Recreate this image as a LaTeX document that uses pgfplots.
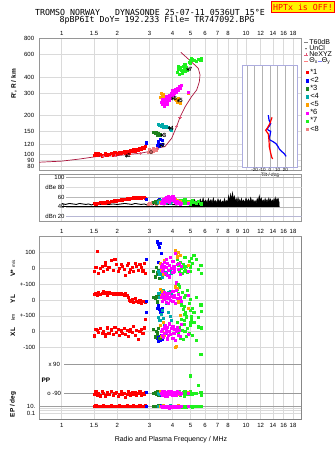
\documentclass[border=0pt]{standalone}
\usepackage{fontspec}
\setmainfont{Liberation Sans}
\newfontfamily\monofont{DejaVu Sans Mono}
\usepackage{pgfplots}
\pgfplotsset{compat=1.18}
\usepackage{pgfplotstable}

\definecolor{c1}{RGB}{255,0,0}
\definecolor{c2}{RGB}{0,0,255}
\definecolor{c3}{RGB}{30,130,30}
\definecolor{c4}{RGB}{0,170,170}
\definecolor{c5}{RGB}{255,160,0}
\definecolor{c6}{RGB}{255,0,255}
\definecolor{c7}{RGB}{30,240,30}
\definecolor{c8}{RGB}{240,128,128}
\definecolor{prof}{RGB}{170,20,60}
\definecolor{plusc}{RGB}{225,90,120}
\definecolor{gridc}{RGB}{218,218,218}
\definecolor{framec}{RGB}{150,150,150}

\newcommand\tickfont{\fontsize{6}{6}\selectfont}

\pgfplotsset{
  dots/.style={only marks, mark=square*, mark size=1.05pt, color=#1,
    mark options={draw=none, fill=#1}, forget plot},
}

% class tables: f (MHz), h (km), V* (m/s), YL, XL (km), PP (deg), EP (deg), amplitude (dB)
\pgfplotstableread{
f h v yl xl pp ep db
1.50 99 -17 35 -26 -95 10 47
1.53 101 5 42 15 -80 12 46
1.55 98 110 30 8 -100 9 48
1.58 102 -32 48 -5 -88 11 47
1.61 100 0 38 20 -105 10 49
1.65 97 15 45 -12 -78 8 48
1.68 99 -21 52 5 -92 13 50
1.72 101 21 40 -30 -110 9 49
1.72 99 38 50 -15 -100 10 48
1.76 98 -6 33 25 -85 11 51
1.80 100 8 46 -8 -98 10 50
1.85 102 52 41 12 -75 12 52
1.90 99 -11 36 -18 -102 9 51
1.94 103 59 44 30 -90 10 53
1.98 100 27 38 -3 -84 11 52
2.02 102 -21 45 18 -108 8 54
2.06 104 0 35 -22 -95 12 53
2.10 101 27 42 6 -80 10 55
2.14 103 15 35 -10 -97 9 54
2.18 105 -6 30 22 -88 11 56
2.22 102 -42 40 -15 -112 10 55
2.26 106 21 28 9 -93 12 57
2.30 104 32 15 -28 -79 9 56
2.32 101 -25 -2 3 -90 10 55
2.35 107 -6 -5 14 -101 11 58
2.40 105 6 5 -6 -86 10 57
2.45 109 -21 -12 35 -96 13 59
2.50 106 32 10 -20 -82 9 58
2.55 110 15 -8 10 -104 11 60
2.60 108 -11 -15 -47 -91 10 57
2.65 112 27 0 0 -77 12 59
2.70 109 6 -20 18 -99 9 58
2.75 114 -15 -5 -12 -87 11 60
2.80 111 35 -10 25 -94 10 59
2.85 116 -30 -16 80 -83 12 58
}\tone
\pgfplotstableread{
f h v yl xl pp ep db
2.89 123 59 -7 120 -82 10 56
3.30 118 168 -50 -40 -88 9 50
3.35 122 150 -43 -32 -95 14 52
3.38 116 136 -60 -48 -80 10 55
3.42 130 160 -74 -53 -92 12 53
3.45 120 95 -65 -20 -100 8 49
3.50 128 -30 -55 -45 -85 11 51
3.52 119 -55 -70 10 -97 10 48
3.33 126 40 -35 -60 -90 13 54
}\ttwo
\pgfplotstableread{
f h v yl xl pp ep db
3.15 148 -20 20 15 -90 10 50
3.20 146 -53 10 -32 -85 9 52
3.25 149 5 25 5 -95 11 48
3.30 144 -35 -5 -15 -80 10 51
3.35 147 -10 15 20 -100 12 49
3.40 142 -60 30 -40 -92 10 53
3.28 140 -25 -12 -5 -88 9 50
}\tthree
\pgfplotstableread{
f h v yl xl pp ep db
3.35 172 -21 45 90 -88 10 50
3.40 168 -40 20 73 -95 11 52
3.45 165 -30 52 110 -82 9 54
3.50 170 -53 -10 137 -100 12 49
3.55 162 -15 60 85 -90 10 51
3.62 166 -35 30 40 -85 11 53
3.70 164 -25 -21 -10 -93 9 50
3.80 162 -42 48 120 -87 10 52
3.87 156 -11 55 95 -97 12 48
3.95 155 -30 40 70 -80 10 51
}\tfour
\pgfplotstableread{
f h v yl xl pp ep db
3.42 278 30 70 40 -78 10 50
3.45 300 -10 30 -30 -92 11 49
3.50 285 20 55 10 -85 9 51
3.55 295 -40 10 60 -95 12 50
3.60 280 50 40 -20 -88 10 52
4.15 270 116 84 -101 -90 11 55
4.20 262 95 63 -91 -82 10 53
4.25 255 73 75 30 -98 9 54
4.30 275 100 -11 189 -87 12 52
4.40 250 85 -95 105 -93 10 51
4.85 300 20 -50 150 -85 11 50
}\tfive
\pgfplotstableread{
f h v yl xl pp ep db
3.45 255 10 20 5 -90 8 47
3.50 245 -20 35 -20 -80 6 50
3.52 270 25 -10 15 -100 10 52
3.55 262 -5 15 -35 -85 5 55
3.58 238 40 50 25 -95 9 48
3.60 250 15 5 -10 -75 7 53
3.65 270 -30 25 40 -105 4 57
3.68 258 55 -15 -5 -88 11 51
3.70 285 5 40 10 -92 6 60
3.74 248 -45 10 -45 -82 8 54
3.75 280 30 30 30 -110 5 58
3.80 268 -10 -20 -25 -78 10 62
3.85 290 20 20 0 -98 7 56
3.85 262 -53 45 50 -86 3 49
3.90 276 70 0 -15 -94 9 59
3.95 300 0 25 20 -80 6 55
4.00 288 -25 -5 -40 -102 4 61
4.00 315 45 55 35 -90 8 53
4.05 310 10 15 -8 -84 10 57
4.10 298 -15 30 15 -96 5 52
4.15 320 95 -21 -53 -88 7 50
4.20 305 -91 63 5 -100 9 48
4.25 330 25 10 25 -76 6 51
4.30 315 -5 35 -20 -92 8 47
4.35 340 35 5 10 -85 5 49
4.40 325 -35 20 -30 -97 7 46
4.45 345 15 -10 45 -89 9 48
4.86 304 -20 30 -15 -90 8 47
}\tsix
\pgfplotstableread{
f h v yl xl pp ep db
4.25 440 60 70 60 -85 9 50
4.28 490 35 100 -5 -90 9 50
4.30 460 20 40 -20 -95 7 52
4.35 420 -15 84 30 -78 10 48
4.40 475 40 10 -40 -100 6 54
4.45 450 0 -30 80 -88 8 51
4.50 430 -32 50 10 -92 11 49
4.55 490 25 -60 -50 -82 5 53
4.60 465 5 20 45 -105 9 47
4.62 505 -20 -40 70 -80 6 52
4.65 445 70 -90 0 -90 7 55
4.70 500 -10 30 120 -75 10 50
4.75 480 15 -106 -30 -98 6 52
4.80 455 -25 60 20 -86 8 48
4.90 520 45 -20 -10 -94 9 51
4.96 540 10 -140 137 20 7 46
5.00 510 -20 5 40 -80 10 50
5.05 560 65 -120 100 -95 8 49
5.10 555 30 -50 -25 -96 6 53
5.20 545 84 -80 60 -88 8 49
5.35 530 55 15 -53 -92 9 47
5.50 550 -5 -169 90 -42 7 51
5.68 545 20 -30 -141 -84 10 48
5.73 560 -30 -70 25 -100 8 46
}\tseven
\pgfplotstableread{
f h db
2.95 104 46
2.98 109 47
3.00 106 48
3.05 103 47
3.10 108 49
3.12 112 50
3.15 105 50
3.20 110 48
3.25 107 46
3.30 112 49
}\teight

% NeXYZ profile
\pgfplotstableread{
f h
0.756 86.6
1.00 88.3
1.257 91.8
1.55 95.9
1.99 97.4
2.66 101.7
2.95 104.5
3.28 111.3
3.63 114.5
3.95 133
4.20 164
4.38 194
4.67 234
5.07 282
5.40 317
5.58 367
5.63 416
5.51 468
5.07 524
4.43 624
}\profile

% tilts (deg, km)
\pgfplotstableread{
t h
3.5 92
2.2 95
0.9 102
-0.9 114.4
-1.3 129
-2.2 144
-4.3 150
-5.6 154
-3.5 160
0 174.4
2.6 194
}\tiltx
\pgfplotstableread{
t h
20.9 96.3
18.6 101
15.3 105
12.1 110
10.4 115
7.8 121
3.5 126
0 129
-1.3 133
0 141
0.9 151
-2.2 154
-3.5 159
-0.9 166
0.9 174
-1.3 185
-2.2 202
}\tilty

% noise level (dB)
\pgfplotstableread{
f db
1.00 47
1.05 45
1.10 47
1.15 46
1.20 45
1.25 47
1.30 46
1.35 45
1.40 46
1.45 44
1.50 46
1.60 45
1.70 46
1.80 45
1.90 46
2.00 45
2.10 46
2.20 47
2.30 46
2.40 45
2.50 47
2.60 46
2.70 45
2.80 46
2.90 44
3.00 45
3.10 44
3.20 46
3.30 45
3.40 47
3.50 45
3.60 44
3.70 46
3.80 45
3.90 47
4.00 45
4.20 44
4.40 46
4.60 45
4.80 47
4.95 46
}\noiselow
\pgfplotstableread{
f db
4.90 40.5
4.95 47
5.05 52
5.15 48
5.25 55
5.35 48
5.45 53
5.55 49
5.65 56
5.75 48
5.85 58
5.95 49
6.05 54
6.15 48
6.25 57
6.35 49
6.45 55
6.55 48
6.65 58
6.75 49
6.85 53
6.95 48
7.05 56
7.15 49
7.25 55
7.35 48
7.45 52
7.55 49
7.65 57
7.75 48
7.85 53
7.95 50
8.05 63
8.15 52
8.25 66
8.35 55
8.45 69
8.55 56
8.65 62
8.75 51
8.85 57
8.95 49
9.05 59
9.15 50
9.25 55
9.35 49
9.45 57
9.55 50
9.70 54
9.85 49
10.00 58
10.15 50
10.30 56
10.45 49
10.60 59
10.75 51
10.90 55
11.05 49
11.20 53
11.35 48
11.50 57
11.65 52
11.80 63
11.95 53
12.10 58
12.25 50
12.40 54
12.55 49
12.70 57
12.85 50
13.00 55
13.15 49
13.30 58
13.45 51
13.60 56
13.75 49
13.90 54
14.05 50
14.20 57
14.35 51
14.50 59
14.65 52
14.80 56
14.95 57
15.10 50
15.15 40.5
}\noisehigh

\begin{document}
\begin{tikzpicture}
\useasboundingbox (0,0) rectangle (335pt,451pt);

% ---------- main height panel ----------
\begin{axis}[scale only axis, xmode=log, xmin=0.756, xmax=20.05, width=262.4pt,
  xtick={1,1.5,2,3,4,5,6,7,8,9,10,12,14,16,18}, minor xtick={},
  xmajorgrids=true, ymajorgrids=true, major grid style={gridc, line width=0.5pt},
  tick style={draw=none}, major tick length=0pt, minor tick length=0pt,
  axis line style={framec, line width=0.6pt},
  tick label style={font=\tickfont, inner sep=0pt},
  at={(39.3pt,281pt)}, anchor=south west, height=132pt,
  ymode=log, ymin=75.3, ymax=807,
  ytick={80,90,100,120,150,200,300,400,600,800}, minor ytick={},
  yticklabels={80,90,100,120,150,200,300,400,600,800},
  yticklabel style={xshift=-5pt},
  xticklabel pos=upper,
  xticklabels={1,1.5,2,3,4,5,6,7,8,,10,12,14,16,18},
  xticklabel style={yshift=2.5pt},
  legend cell align=left,
  legend style={at={(axis description cs:1.0069,0.987)}, anchor=north west,
    draw=none, fill=none, font=\fontsize{7}{7}\selectfont, inner sep=0pt, row sep=0.4pt, column sep=0.8pt,
    nodes={inner sep=0.3pt, text height=4.4pt, text depth=0.6pt}},
]
\addlegendimage{legend image code/.code={\draw[gray, line width=0.6pt] (0pt,0pt)--(4pt,0pt);}}
\addlegendentry{T60dB}
\addlegendimage{legend image code/.code={\fill[black] (2pt,0pt) circle (0.4pt);}}
\addlegendentry{UnCl}
\addlegendimage{legend image code/.code={\draw[plusc] (0pt,0pt)--(4pt,0pt); \draw[plusc] (2pt,-1.5pt)--(2pt,1.5pt);}}
\addlegendentry{NeXYZ}
\addlegendimage{legend image code/.code={\draw[red!50] (0pt,0pt)--(4pt,0pt);}}
\addlegendentry{Θ\textsubscript{x}\textcolor{blue!50}{\rule[1.6pt]{4pt}{0.4pt}}Θ\textsubscript{y}}

\addplot[dots=c1] table[x=f, y=h]{\tone};
\addplot[dots=c8] table[x=f, y=h]{\teight};
\addplot[dots=c2] table[x=f, y=h]{\ttwo};
\addplot[dots=c3] table[x=f, y=h]{\tthree};
\addplot[dots=c4] table[x=f, y=h]{\tfour};
\addplot[dots=c5] table[x=f, y=h]{\tfive};
\addplot[dots=c6] table[x=f, y=h]{\tsix};
\addplot[dots=c7] table[x=f, y=h]{\tseven};
\addplot[prof, line width=0.7pt, forget plot] table[x=f, y=h]{\profile};
\addplot[only marks, mark=+, mark size=1.6pt, plusc, forget plot] coordinates {
  (1.68,96.3) (1.95,97.3) (2.66,101.7) (3.30,111.5) (4.20,164) (4.38,194)};
\addplot[only marks, mark=asterisk, mark size=1.8pt, black, line width=0.5pt, forget plot,
  nodes near coords, point meta=explicit symbolic,
  every node near coord/.style={anchor=west, font=\tickfont\bfseries, inner sep=0.6pt}]
  table[x=f, y=h, meta=lab]{
f h lab
2.25 97 1
3.45 117 2
3.50 141 3
3.85 160 4
4.30 262 5
4.00 272 6
4.85 460 7
};
\addplot[only marks, mark=o, mark size=1.6pt, black, forget plot] coordinates {(3.05,104)};
\end{axis}

% ---------- tilt inset ----------
\begin{axis}[scale only axis, at={(242.3pt,284pt)}, anchor=south west,
  width=55.4pt, height=101.7pt, xmin=-36, xmax=36,
  ymode=log, ymin=79.6, ymax=494, ytick=\empty, minor ytick={},
  xtick={-30,-20,-10,0,10,20,30}, xticklabels={,-20,-10,0,10,20,},
  xmajorgrids=true, major grid style={gray!60, line width=0.5pt},
  axis line style={gray!55!blue!45, line width=0.7pt},
  axis background/.style={fill=white},
  tick style={draw=none}, major tick length=0pt,
  tick label style={font=\fontsize{4.6}{4.6}\selectfont, inner sep=0pt},
  xticklabel style={yshift=-1.2pt},
  legend cell align=left,
  legend style={at={(axis description cs:1.141,0.9587)}, anchor=north west,
    draw=none, fill=none, font=\fontsize{7.5}{7.5}\selectfont, inner sep=0pt, row sep=2.5pt, column sep=1.5pt,
    nodes={inner sep=0.3pt, text height=4.4pt, text depth=0.6pt}},
]
\addlegendimage{legend image code/.code={\fill[c1] (0pt,-1.2pt) rectangle (2.4pt,1.2pt);}}
\addlegendentry{*1}
\addlegendimage{legend image code/.code={\fill[c2] (0pt,-1.2pt) rectangle (2.4pt,1.2pt);}}
\addlegendentry{<2}
\addlegendimage{legend image code/.code={\fill[c3] (0pt,-1.2pt) rectangle (2.4pt,1.2pt);}}
\addlegendentry{*3}
\addlegendimage{legend image code/.code={\fill[c4] (0pt,-1.2pt) rectangle (2.4pt,1.2pt);}}
\addlegendentry{<4}
\addlegendimage{legend image code/.code={\fill[c5] (0pt,-1.2pt) rectangle (2.4pt,1.2pt);}}
\addlegendentry{<5}
\addlegendimage{legend image code/.code={\fill[c6] (0pt,-1.2pt) rectangle (2.4pt,1.2pt);}}
\addlegendentry{*6}
\addlegendimage{legend image code/.code={\fill[c7] (0pt,-1.2pt) rectangle (2.4pt,1.2pt);}}
\addlegendentry{*7}
\addlegendimage{legend image code/.code={\fill[c8] (0pt,-1.2pt) rectangle (2.4pt,1.2pt);}}
\addlegendentry{<8}
\addplot[blue, line width=1.2pt, forget plot] table[x=t, y=h]{\tilty};
\addplot[red, line width=1.2pt, forget plot] table[x=t, y=h]{\tiltx};
\end{axis}
\node[font=\fontsize{4.8}{4.8}\selectfont, inner sep=0pt] at (270pt,276pt) {Tilt / deg};

% ---------- amplitude panel ----------
\begin{axis}[scale only axis, xmode=log, xmin=0.756, xmax=20.05, width=262.4pt,
  xtick={1,1.5,2,3,4,5,6,7,8,9,10,12,14,16,18}, minor xtick={},
  xmajorgrids=true, major grid style={gridc, line width=0.5pt},
  tick style={draw=none}, major tick length=0pt, minor tick length=0pt,
  axis line style={framec, line width=0.6pt},
  tick label style={font=\tickfont, inner sep=0pt},
  at={(39.3pt,229.3pt)}, anchor=south west, height=47.7pt,
  ymin=9.8, ymax=107.1, ymajorgrids=false,
  ytick={20,40,60,80,100}, yticklabels={dBn 20,40,60,dBe 80,100},
  yticklabel style={xshift=25.4pt},
  xticklabels={1,1.5,2,3,4,5,6,7,8,9,10,12,14,16,18},
  xticklabel style={yshift=-7.8pt},
]
\draw[gray!70, line width=0.6pt] (axis cs:1.06,100) -- (axis cs:20.05,100);
\draw[gridc] (axis cs:1.06,80) -- (axis cs:20.05,80);
\draw[gray!55] (axis cs:1.06,60) -- (axis cs:20.05,60);
\draw[gray!55] (axis cs:1.06,40) -- (axis cs:20.05,40);
\draw[blue!25!gray!45, line width=0.6pt] (axis cs:1.06,20) -- (axis cs:20.05,20);
\draw[black, line width=0.9pt] (axis cs:1.0,40.5) -- (axis cs:15.15,40.5);
\addplot[black, line width=0.9pt, forget plot] table[x=f, y=db]{\noiselow};
\addplot[black, fill=black, line width=0.5pt, forget plot] table[x=f, y=db]{\noisehigh} -- cycle;
\addplot[dots=c1] table[x=f, y=db]{\tone};
\addplot[dots=c8] table[x=f, y=db]{\teight};
\addplot[dots=c2] table[x=f, y=db]{\ttwo};
\addplot[dots=c3] table[x=f, y=db]{\tthree};
\addplot[dots=c4] table[x=f, y=db]{\tfour};
\addplot[dots=c7] table[x=f, y=db]{\tseven};
\addplot[dots=c5] table[x=f, y=db]{\tfive};
\addplot[dots=c6] table[x=f, y=db]{\tsix};
\end{axis}

% ---------- lower multi-panel ----------
\begin{axis}[scale only axis, xmode=log, xmin=0.756, xmax=20.05, width=262.4pt,
  xtick={1,1.5,2,3,4,5,6,7,8,9,10,12,14,16,18}, minor xtick={},
  xmajorgrids=true, ymajorgrids=true, major grid style={gridc, line width=0.5pt},
  tick style={draw=none}, major tick length=0pt, minor tick length=0pt,
  axis line style={framec, line width=0.6pt},
  tick label style={font=\tickfont, inner sep=0pt},
  at={(39.3pt,31.7pt)}, anchor=south west, height=182.6pt,
  ymin=-953.9, ymax=199.6,
  ytick={100,0,-100,-200,-300,-400,-500,-869.9,-884.5,-899.6,-915.9},
  yticklabels={100,0,+-100,0,+-100,0,-100,10.,,,0.1},
  yticklabel style={xshift=-3.8pt},
  xticklabels={1,1.5,2,3,4,5,6,7,8,,10,12,14,16,18},
  xticklabel style={yshift=-3.5pt},
]
\draw[gray!80, line width=0.6pt] (axis cs:1.03,-607.7) -- (axis cs:20.05,-607.7);
\draw[gray!80, line width=0.6pt] (axis cs:1.03,-789.6) -- (axis cs:20.05,-789.6);
\draw[gray!75, line width=0.6pt] (axis cs:0.756,-869.9) -- (axis cs:20.05,-869.9);
% V*
\addplot[dots=c1] table[x=f, y=v]{\tone};
\addplot[dots=c2] table[x=f, y=v]{\ttwo};
\addplot[dots=c3] table[x=f, y=v]{\tthree};
\addplot[dots=c4] table[x=f, y=v]{\tfour};
\addplot[dots=c7] table[x=f, y=v]{\tseven};
\addplot[dots=c5] table[x=f, y=v]{\tfive};
\addplot[dots=c6] table[x=f, y=v]{\tsix};
% YL (offset -200)
\addplot[dots=c1] table[x=f, y expr=\thisrow{yl}-200]{\tone};
\addplot[dots=c2] table[x=f, y expr=\thisrow{yl}-200]{\ttwo};
\addplot[dots=c3] table[x=f, y expr=\thisrow{yl}-200]{\tthree};
\addplot[dots=c4] table[x=f, y expr=\thisrow{yl}-200]{\tfour};
\addplot[dots=c7] table[x=f, y expr=\thisrow{yl}-200]{\tseven};
\addplot[dots=c5] table[x=f, y expr=\thisrow{yl}-200]{\tfive};
\addplot[dots=c6] table[x=f, y expr=\thisrow{yl}-200]{\tsix};
% XL (offset -400)
\addplot[dots=c1] table[x=f, y expr=\thisrow{xl}-400]{\tone};
\addplot[dots=c2] table[x=f, y expr=\thisrow{xl}-400]{\ttwo};
\addplot[dots=c3] table[x=f, y expr=\thisrow{xl}-400]{\tthree};
\addplot[dots=c4] table[x=f, y expr=\thisrow{xl}-400]{\tfour};
\addplot[dots=c7] table[x=f, y expr=\thisrow{xl}-400]{\tseven};
\addplot[dots=c5] table[x=f, y expr=\thisrow{xl}-400]{\tfive};
\addplot[dots=c6] table[x=f, y expr=\thisrow{xl}-400]{\tsix};
% PP (+90 at -607.7, -90 at -789.6)
\addplot[dots=c1] table[x=f, y expr=1.0106*\thisrow{pp}-698.7]{\tone};
\addplot[dots=c2] table[x=f, y expr=1.0106*\thisrow{pp}-698.7]{\ttwo};
\addplot[dots=c3] table[x=f, y expr=1.0106*\thisrow{pp}-698.7]{\tthree};
\addplot[dots=c4] table[x=f, y expr=1.0106*\thisrow{pp}-698.7]{\tfour};
\addplot[dots=c7] table[x=f, y expr=1.0106*\thisrow{pp}-698.7]{\tseven};
\addplot[dots=c5] table[x=f, y expr=1.0106*\thisrow{pp}-698.7]{\tfive};
\addplot[dots=c6] table[x=f, y expr=1.0106*\thisrow{pp}-698.7]{\tsix};
% EP (log, 10 at -869.9)
\addplot[dots=c1] table[x=f, y expr=9.989*ln(\thisrow{ep})-892.9]{\tone};
\addplot[dots=c2] table[x=f, y expr=9.989*ln(\thisrow{ep})-892.9]{\ttwo};
\addplot[dots=c3] table[x=f, y expr=9.989*ln(\thisrow{ep})-892.9]{\tthree};
\addplot[dots=c4] table[x=f, y expr=9.989*ln(\thisrow{ep})-892.9]{\tfour};
\addplot[dots=c7] table[x=f, y expr=9.989*ln(\thisrow{ep})-892.9]{\tseven};
\addplot[dots=c5] table[x=f, y expr=9.989*ln(\thisrow{ep})-892.9]{\tfive};
\addplot[dots=c6] table[x=f, y expr=9.989*ln(\thisrow{ep})-892.9]{\tsix};
\draw[gray, line width=1pt] (rel axis cs:1,1) -- (rel axis cs:1,0) -- (rel axis cs:0,0);
\end{axis}

% ---------- texts ----------
\node[font=\monofont\fontsize{8.3}{8.3}\selectfont, inner sep=0pt] at (150pt,438.7pt)
  {TROMSO NORWAY~~~DYNASONDE 25-07-11 0536UT 15°E};
\node[font=\monofont\fontsize{8.3}{8.3}\selectfont, inner sep=0pt] at (157pt,430.7pt)
  {8pBP6It DoY= 192.233 File= TR747092.BPG};
\node[draw=red, fill=yellow, text=red, line width=0.6pt, font=\monofont\fontsize{8.3}{8.3}\selectfont,
  inner sep=0pt, minimum width=62.6pt, minimum height=10.6pt] at (303pt,444pt) {HPTx is OFF!};

\node[rotate=90, font=\fontsize{6.5}{6.5}\selectfont\bfseries, inner sep=0pt] at (14pt,367pt) {R', R / km};
\node[rotate=90, inner sep=0pt] at (13pt,182.5pt) {{\fontsize{6.5}{6.5}\selectfont\bfseries V*} {\fontsize{4.5}{4.5}\selectfont m/s}};
\node[rotate=90, font=\fontsize{6.5}{6.5}\selectfont\bfseries, inner sep=0pt] at (13pt,152pt) {YL};
\node[rotate=90, font=\fontsize{5}{5}\selectfont, inner sep=0pt] at (13pt,133.5pt) {km};
\node[rotate=90, font=\fontsize{6.5}{6.5}\selectfont\bfseries, inner sep=0pt] at (13pt,119pt) {XL};
\node[rotate=90, font=\fontsize{6.5}{6.5}\selectfont\bfseries, inner sep=0pt] at (13pt,46.5pt) {EP / deg};
\node[font=\fontsize{6.5}{6.5}\selectfont\bfseries, inner sep=0pt] at (46pt,71pt) {PP};
\node[font=\tickfont, inner sep=0pt] at (54.2pt,86.5pt) {x 90};
\node[font=\tickfont, inner sep=0pt] at (54.2pt,57.7pt) {o -90};
\node[font=\fontsize{7}{7}\selectfont, inner sep=0pt] at (171pt,11.7pt) {Radio and Plasma Frequency / MHz};
\end{tikzpicture}
\end{document}
